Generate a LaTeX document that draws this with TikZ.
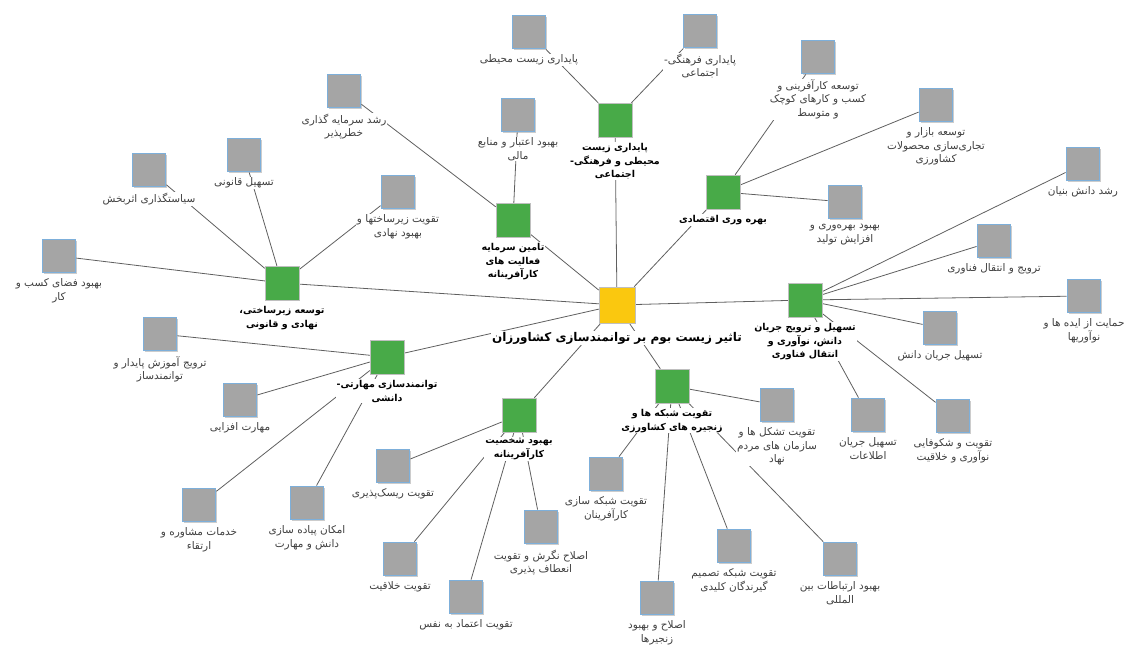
\documentclass[tikz,border=0pt]{standalone}
\usepackage{fontspec}
\usepackage{tikz}
\usetikzlibrary{shapes,shadows}
\TeXXeTstate=1
\newfontfamily\arabicfont[Script=Arabic]{DejaVu Sans}
\pgfdeclarelayer{background}
\pgfdeclarelayer{foreground}
\pgfsetlayers{background,main,foreground}
\definecolor{hubgreen}{RGB}{72,170,72}
\definecolor{rootyellow}{RGB}{250,200,15}
\definecolor{leafgray}{RGB}{165,165,165}
\definecolor{leafblue}{RGB}{125,175,218}
\definecolor{linegray}{RGB}{95,95,95}
\newcommand{\fa}[1]{\beginR #1\endR}
\tikzstyle{root} = [draw=black!25, fill=rootyellow, minimum size=36pt, inner sep=0pt, drop shadow={shadow xshift=1pt, shadow yshift=-1pt, opacity=.3}]
\tikzstyle{hub} = [draw=black!25, fill=hubgreen, minimum size=34pt, inner sep=0pt, drop shadow={shadow xshift=1pt, shadow yshift=-1pt, opacity=.3}]
\tikzstyle{leaf} = [draw=leafblue, line width=1.8pt, fill=leafgray, minimum size=33pt, inner sep=0pt, drop shadow={shadow xshift=1.4pt, shadow yshift=-1.4pt, opacity=.4}]
\tikzstyle{roottext} = [font=\arabicfont\bfseries\fontsize{12}{15}\selectfont, fill=white, inner sep=1pt, yshift=-8pt]
\tikzstyle{hubtext} = [font=\arabicfont\bfseries\fontsize{9.5}{13.5}\selectfont, align=center, fill=white, inner sep=1pt, yshift=-5pt]
\tikzstyle{leaftext} = [font=\arabicfont\fontsize{10.5}{13.5}\selectfont, text=black!75, align=center, fill=white, inner sep=1pt, yshift=-4pt]
\tikzstyle{line} = [draw, color=linegray, line width=0.8pt]
\newcommand{\rootnode}[2]{node (#1) [root, label={[roottext]below:{#2}}] {}}
\newcommand{\hubnode}[2]{node (h#1) [hub, label={[hubtext]below:{#2}}] {}}
\newcommand{\leafnode}[2]{node (l#1) [leaf, label={[leaftext]below:{#2}}] {}}

\begin{document}
\begin{tikzpicture}[x=1pt,y=-1pt]
\useasboundingbox (0,0) rectangle (1125,649);
\path (617,305) \rootnode{c}{\fa{تاثیر زیست بوم بر توانمندسازی کشاورزان}};

% main dimensions
\path (c)+(-2,-185) \hubnode{1}{\fa{پایداری زیست}\\\fa{محیطی و فرهنگی-}\\\fa{اجتماعی}};
\path (c)+(106,-113) \hubnode{2}{\fa{بهره وری اقتصادی}};
\path (c)+(-104,-85) \hubnode{3}{\fa{تامین سرمایه}\\\fa{فعالیت های}\\\fa{کارآفرینانه}};
\path (c)+(-335,-22) \hubnode{4}{\fa{توسعه زیرساختی،}\\\fa{نهادی و قانونی}};
\path (c)+(-230,52) \hubnode{5}{\fa{توانمندسازی مهارتی-}\\\fa{دانشی}};
\path (c)+(-98,110) \hubnode{6}{\fa{بهبود شخصیت}\\\fa{کارآفرینانه}};
\path (c)+(55,81) \hubnode{7}{\fa{تقویت شبکه ها و}\\\fa{زنجیره های کشاورزی}};
\path (c)+(188,-5) \hubnode{8}{\fa{تسهیل و ترویج جریان}\\\fa{دانش، نوآوری و}\\\fa{انتقال فناوری}};

% sustainability
\path (h1)+(-86,-88) \leafnode{1}{\fa{پایداری زیست محیطی}};
\path (h1)+(85,-89) \leafnode{2}{\fa{پایداری فرهنگی-}\\\fa{اجتماعی}};
% economy
\path (h2)+(95,-135) \leafnode{3}{\fa{توسعه کارآفرینی و}\\\fa{کسب و کارهای کوچک}\\\fa{و متوسط}};
\path (h2)+(213,-87) \leafnode{4}{\fa{توسعه بازار و}\\\fa{تجاری‌سازی محصولات}\\\fa{کشاورزی}};
\path (h2)+(122,10) \leafnode{5}{\fa{بهبود بهره‌وری و}\\\fa{افزایش تولید}};
% finance
\path (h3)+(-169,-129) \leafnode{6}{\fa{رشد سرمایه گذاری}\\\fa{خطرپذیر}};
\path (h3)+(5,-105) \leafnode{7}{\fa{بهبود اعتبار و منابع}\\\fa{مالی}};
% infrastructure
\path (h4)+(-133,-113) \leafnode{8}{\fa{سیاستگذاری اثربخش}};
\path (h4)+(-38,-128) \leafnode{9}{\fa{تسهیل قانونی}};
\path (h4)+(-223,-27) \leafnode{10}{\fa{بهبود فضای کسب و}\\\fa{کار}};
\path (h4)+(116,-91) \leafnode{11}{\fa{تقویت زیرساختها و}\\\fa{بهبود نهادی}};
% skills
\path (h5)+(-227,-23) \leafnode{12}{\fa{ترویج آموزش پایدار و}\\\fa{توانمندساز}};
\path (h5)+(-147,43) \leafnode{13}{\fa{مهارت افزایی}};
\path (h5)+(-188,148) \leafnode{14}{\fa{خدمات مشاوره و}\\\fa{ارتقاء}};
\path (h5)+(-80,146) \leafnode{15}{\fa{امکان پیاده سازی}\\\fa{دانش و مهارت}};
% personality
\path (h6)+(-126,51) \leafnode{16}{\fa{تقویت ریسک‌پذیری}};
\path (h6)+(-119,144) \leafnode{17}{\fa{تقویت خلاقیت}};
\path (h6)+(-53,182) \leafnode{18}{\fa{تقویت اعتماد به نفس}};
\path (h6)+(22,112) \leafnode{19}{\fa{اصلاح نگرش و تقویت}\\\fa{انعطاف پذیری}};
% networks
\path (h7)+(105,19) \leafnode{20}{\fa{تقویت تشکل ها و}\\\fa{سازمان های مردم}\\\fa{نهاد}};
\path (h7)+(-66,88) \leafnode{21}{\fa{تقویت شبکه سازی}\\\fa{کارآفرینان}};
\path (h7)+(-15,212) \leafnode{22}{\fa{اصلاح و بهبود}\\\fa{زنجیرها}};
\path (h7)+(62,160) \leafnode{23}{\fa{تقویت شبکه تصمیم}\\\fa{گیرندگان کلیدی}};
\path (h7)+(168,173) \leafnode{24}{\fa{بهبود ارتباطات بین}\\\fa{المللی}};
% knowledge
\path (h8)+(278,-136) \leafnode{25}{\fa{رشد دانش بنیان}};
\path (h8)+(189,-59) \leafnode{26}{\fa{ترویج و انتقال فناوری}};
\path (h8)+(279,-4) \leafnode{27}{\fa{حمایت از ایده ها و}\\\fa{نوآوریها}};
\path (h8)+(135,28) \leafnode{28}{\fa{تسهیل جریان دانش}};
\path (h8)+(63,115) \leafnode{29}{\fa{تسهیل جریان}\\\fa{اطلاعات}};
\path (h8)+(148,116) \leafnode{30}{\fa{تقویت و شکوفایی}\\\fa{نوآوری و خلاقیت}};

\begin{pgfonlayer}{background}
\path [line] (c) -- (h1);
\path [line] (c) -- (h2);
\path [line] (c) -- (h3);
\path [line] (c) -- (h4);
\path [line] (c) -- (h5);
\path [line] (c) -- (h6);
\path [line] (c) -- (h7);
\path [line] (c) -- (h8);
\path [line] (h1) -- (l1);
\path [line] (h1) -- (l2);
\path [line] (h2) -- (l3);
\path [line] (h2) -- (l4);
\path [line] (h2) -- (l5);
\path [line] (h3) -- (l6);
\path [line] (h3) -- (l7);
\path [line] (h4) -- (l8);
\path [line] (h4) -- (l9);
\path [line] (h4) -- (l10);
\path [line] (h4) -- (l11);
\path [line] (h5) -- (l12);
\path [line] (h5) -- (l13);
\path [line] (h5) -- (l14);
\path [line] (h5) -- (l15);
\path [line] (h6) -- (l16);
\path [line] (h6) -- (l17);
\path [line] (h6) -- (l18);
\path [line] (h6) -- (l19);
\path [line] (h7) -- (l20);
\path [line] (h7) -- (l21);
\path [line] (h7) -- (l22);
\path [line] (h7) -- (l23);
\path [line] (h7) -- (l24);
\path [line] (h8) -- (l25);
\path [line] (h8) -- (l26);
\path [line] (h8) -- (l27);
\path [line] (h8) -- (l28);
\path [line] (h8) -- (l29);
\path [line] (h8) -- (l30);
\end{pgfonlayer}
\end{tikzpicture}
\end{document}
